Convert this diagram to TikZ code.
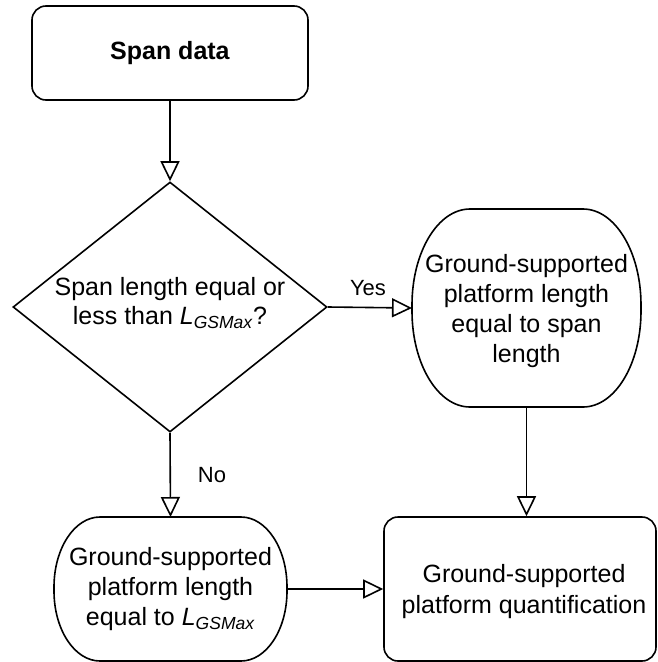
\documentclass[tikz,border=0pt]{standalone}
\usepackage{fontspec}
\setmainfont{Liberation Sans}
\usetikzlibrary{arrows.meta,shapes.geometric}

\tikzset{
  base/.style={draw=black, line width=1.6pt, align=center, inner sep=0pt,
    font=\fontsize{25}{30}\selectfont},
  boxnode/.style={base, rectangle, rounded corners=14pt},
  % text holder for the oval steps; its outline is drawn by \ovaloutline
  ovalnode/.style={rectangle, align=center, inner sep=0pt, outer sep=0pt,
    font=\fontsize{25}{30}\selectfont},
  txt/.style={align=center, inner sep=0pt, font=\fontsize{25}{30}\selectfont},
  decnode/.style={base, diamond},
  outline/.style={draw=black, line width=1.6pt},
  flow/.style={line width=1.6pt,
    -{Triangle[open, length=20pt, width=19pt, line width=1.6pt]}},
  lbl/.style={font=\fontsize{22}{26}\selectfont, inner sep=0pt},
}
\newcommand{\lgs}{\textit{L}\textsubscript{\textit{GSMax}}}
% #1 node name, #2 horizontal corner radius, #3 vertical corner radius
\newcommand{\ovaloutline}[3]{%
  \draw[outline] ([xshift=#2]#1.north west) -- ([xshift=-#2]#1.north east)
    arc[start angle=90, end angle=0, x radius=#2, y radius=#3]
    -- ([yshift=#3]#1.south east)
    arc[start angle=0, end angle=-90, x radius=#2, y radius=#3]
    -- ([xshift=#2]#1.south west)
    arc[start angle=270, end angle=180, x radius=#2, y radius=#3]
    -- ([yshift=-#3]#1.north west)
    arc[start angle=180, end angle=90, x radius=#2, y radius=#3]
    -- cycle;}

\begin{document}
\begin{tikzpicture}[x=1pt, y=-1pt]
  \useasboundingbox (0,0) rectangle (657,662);
  \clip (0,0) rectangle (657,662);

  % process steps
  \node[boxnode, minimum width=276pt, minimum height=94pt] (span) at (170,53)
    {\textbf{Span data}};
  \node[decnode, minimum width=314pt, minimum height=250pt] (dec) at (170,307) {};
  \node[txt, font=\fontsize{25}{29}\selectfont] (dectext) at (170,303)
    {Span length equal or\\ less than \lgs?};
  \node[ovalnode, minimum width=229pt, minimum height=198pt] (rgp) at (526.5,308)
    {};
  \node[txt] (rgptext) at (526.5,311)
    {Ground-supported\\ platform length\\ equal to span\\ length};
  \ovaloutline{rgp}{58pt}{96pt}
  \node[ovalnode, minimum width=233pt, minimum height=144pt] (lgp) at (170.5,589)
    {Ground-supported\\ platform length\\ equal to \lgs};
  \ovaloutline{lgp}{46pt}{70pt}
  \node[boxnode, minimum width=272pt, minimum height=144pt] (quant) at (520,589) {};
  \node[txt, font=\fontsize{25}{31}\selectfont] (quanttext) at (524,592)
    {Ground-supported\\ platform quantification};

  % connectors
  \draw[flow] (span.south) -- (dec.north);
  \draw[flow] (dec.east) -- (rgp.west);
  \draw[flow] (dec.south) -- (lgp.north);
  \draw[flow] (rgp.south) -- (rgp.south |- quant.north);
  \draw[flow] (lgp.east) -- (lgp.east -| quant.west);

  % branch labels
  \node[lbl] (yes) at (368,288) {Yes};
  \node[lbl] (no) at (212,475) {No};
\end{tikzpicture}
\end{document}
